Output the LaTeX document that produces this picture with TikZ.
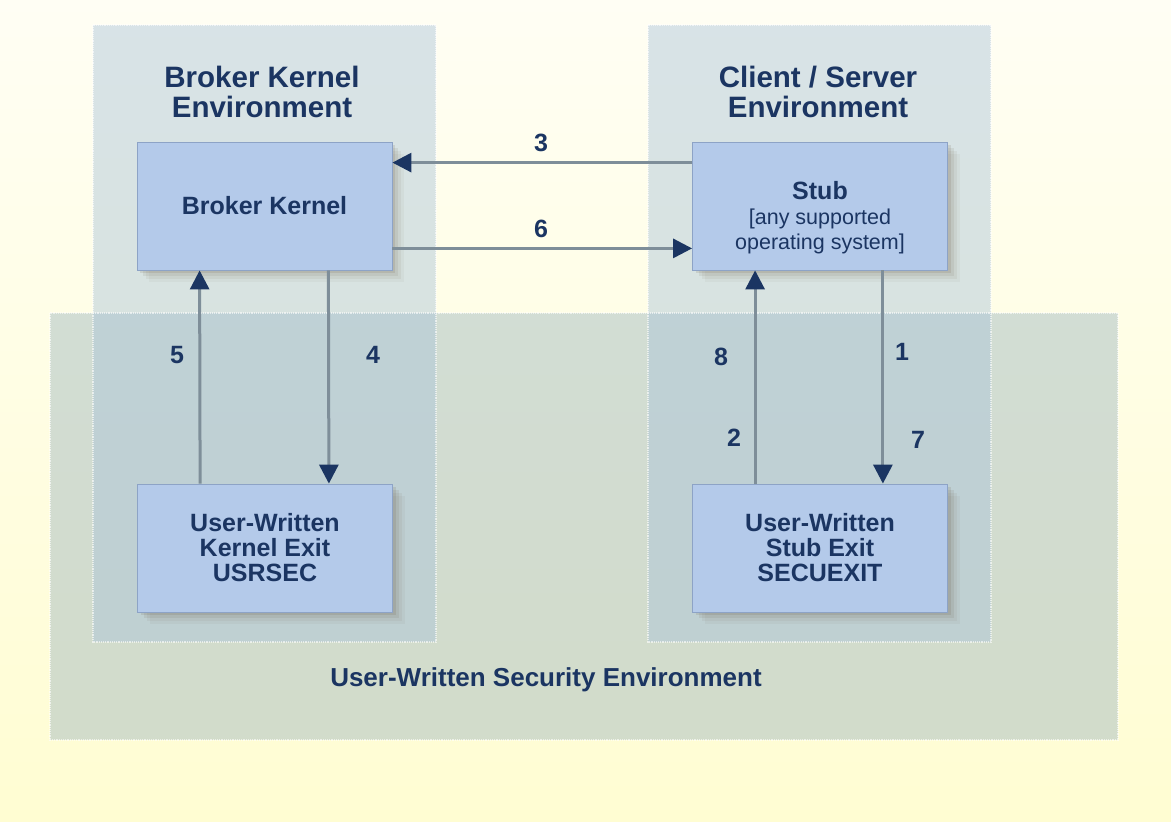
\documentclass[tikz,border=0pt]{standalone}
\usepackage{fontspec}
\setmainfont{Liberation Sans}
\usetikzlibrary{arrows.meta,shadows}

\definecolor{bgtop}{HTML}{FFFEF4}
\definecolor{bgbot}{HTML}{FFFDD2}
\definecolor{envblue}{HTML}{A9C3D9}
\definecolor{secgreen}{HTML}{9CB6BE}
\definecolor{boxfill}{HTML}{B4CAEA}
\definecolor{boxline}{HTML}{8DA3C6}
\definecolor{navy}{HTML}{1B3562}
\definecolor{linegray}{HTML}{7E8E99}
\definecolor{shadowc}{HTML}{6B5A45}

\tikzset{
  softshadow/.style={
    general shadow={fill=shadowc, opacity=.14, shadow xshift=3pt, shadow yshift=-3pt},
    general shadow={fill=shadowc, opacity=.10, shadow xshift=6pt, shadow yshift=-6pt},
    general shadow={fill=shadowc, opacity=.07, shadow xshift=9pt, shadow yshift=-9pt},
    general shadow={fill=shadowc, opacity=.05, shadow xshift=12pt, shadow yshift=-12pt}},
  unitbox/.style={draw=boxline, fill=boxfill, line width=0.8pt, softshadow,
    minimum width=255pt, minimum height=128pt, inner sep=0pt,
    align=center, text=navy, font=\fontsize{25}{25}\selectfont\bfseries},
  boxtext/.style={align=center, text=navy, inner sep=0pt,
    font=\fontsize{25}{25}\selectfont\bfseries},
  envtitle/.style={align=center, text=navy, inner sep=0pt,
    font=\fontsize{29.5}{30}\selectfont\bfseries},
  num/.style={text=navy, inner sep=0pt, font=\fontsize{25}{25}\selectfont\bfseries},
  envarea/.style={fill opacity=.45},
  envedge/.style={draw=white, densely dotted, line width=1.2pt, draw opacity=.6},
  conn/.style={draw=linegray, line width=3pt,
    -{Triangle[length=19pt,width=19pt,color=navy]}},
}

\begin{document}
\begin{tikzpicture}[x=1pt,y=-1pt]
    % 背景, 1171 x 822
    \useasboundingbox (0,0) rectangle (1171,822);
    \shade[top color=bgtop, bottom color=bgbot] (0,0) rectangle (1171,822);

    % 三个环境区域 (半透明, 重叠处更深)
    \fill[envarea, secgreen] (50,313) rectangle (1118,740);
    \fill[envarea, envblue] (93,25) rectangle (436,642);
    \fill[envarea, envblue] (648,25) rectangle (991,642);
    \draw[envedge] (50,313) rectangle (1118,740);
    \draw[envedge] (93,25) rectangle (436,642);
    \draw[envedge] (648,25) rectangle (991,642);

    \node[envtitle] (kenvtitle) at (262,92) {Broker Kernel\\Environment};
    \node[envtitle] (csenvtitle) at (818,92) {Client / Server\\Environment};
    \node[envtitle, font=\fontsize{26}{26}\selectfont\bfseries] (sectitle) at (546,680) {User-Written Security Environment};

    % 四个方框
    \node[unitbox] (kernel) at (264.5,206) {Broker Kernel};
    \node[unitbox] (stub) at (820,206) {};
    \node[boxtext] (stubtext) at ([yshift=-12pt]stub.center) {Stub\\{\fontsize{21.5}{22}\selectfont\mdseries [any supported}\\{\fontsize{21.5}{22}\selectfont\mdseries operating system]}};
    \node[unitbox] (kexit) at (265,548) {User-Written\\Kernel Exit\\USRSEC};
    \node[unitbox] (sexit) at (820,548) {User-Written\\Stub Exit\\SECUEXIT};

    % 连线
    \draw[conn] ([yshift=-21pt]stub.north west) -- ([yshift=-21pt]kernel.north east); % 3
    \draw[conn] ([yshift=22pt]kernel.south east) -- ([yshift=22pt]stub.south west); % 6
    \draw[conn] ([xshift=63pt]kexit.north west) -- ([xshift=63pt]kernel.south west); % 5
    \draw[conn] ([xshift=-64pt]kernel.south east) -- ([xshift=-64pt]kexit.north east); % 4
    \draw[conn] ([xshift=63pt]sexit.north west) -- ([xshift=63pt]stub.south west); % 8, 2
    \draw[conn] ([xshift=-65pt]stub.south east) -- ([xshift=-65pt]sexit.north east); % 1, 7

    % 编号
    \node[num] (n3) at (541,143) {3};
    \node[num] (n6) at (541,229) {6};
    \node[num] (n5) at (177,355) {5};
    \node[num] (n4) at (373,355) {4};
    \node[num] (n8) at (721,357) {8};
    \node[num] (n1) at (902,352) {1};
    \node[num] (n2) at (734,438) {2};
    \node[num] (n7) at (918,440) {7};
  \end{tikzpicture}
\end{document}
